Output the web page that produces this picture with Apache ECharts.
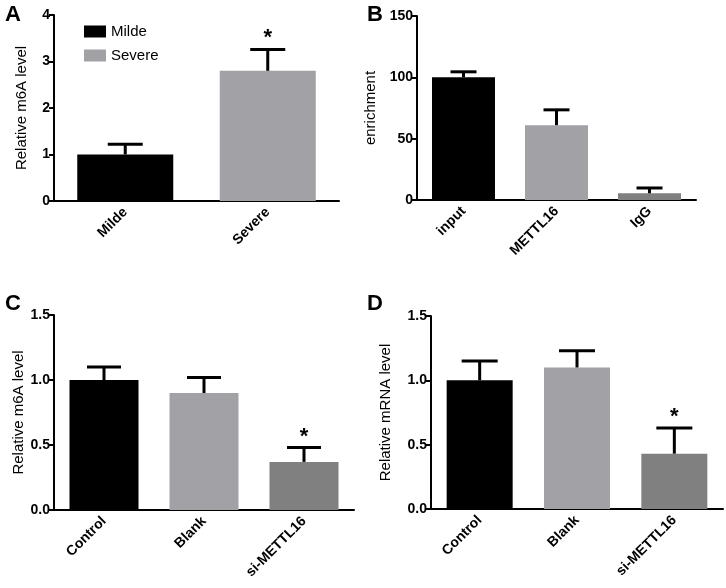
<!DOCTYPE html>
<html>
<head>
<meta charset="utf-8">
<script src="https://cdn.jsdelivr.net/npm/echarts@6/dist/echarts.min.js"></script>
<style>
  html, body { margin: 0; padding: 0; background: #fff; }
  #output { width: 726px; height: 588px; }
</style>
</head>
<body>
<div id="output"></div>
<script>
const chart = echarts.init(document.getElementById('output'));

// panel A
const categoriesA = ['Milde', 'Severe'];
const meanA = [1.0, 2.8];
const upperA = [1.22, 3.26];
const sigA = [0, 1];

// panel B
const categoriesB = ['input', 'METTL16', 'IgG'];
const meanB = [100, 61, 5.5];
const upperB = [104.5, 73.5, 9.8];
const sigB = [0, 0, 0];

// panel C
const categoriesC = ['Control', 'Blank', 'si-METTL16'];
const meanC = [1.0, 0.9, 0.37];
const upperC = [1.1, 1.02, 0.48];
const sigC = [0, 0, 1];

// panel D
const categoriesD = ['Control', 'Blank', 'si-METTL16'];
const meanD = [1.0, 1.1, 0.43];
const upperD = [1.15, 1.23, 0.63];
const sigD = [0, 0, 1];

const BLACK = '#000000';
const LIGHT = '#a1a1a6';
const DARK = '#808080';
const threeColors = [BLACK, LIGHT, DARK];
const FONT = 'Liberation Sans, Arial, sans-serif';

function errorRender (capWidth) {
  return function (params, api) {
    const x = api.value(0);
    const p0 = api.coord([x, api.value(1)]);
    const p1 = api.coord([x, api.value(2)]);
    const style = { stroke: '#000', lineWidth: 3 };
    const children = [
      { type: 'line', shape: { x1: p0[0], y1: p0[1], x2: p1[0], y2: p1[1] }, style },
      { type: 'line', shape: { x1: p1[0] - capWidth / 2, y1: p1[1], x2: p1[0] + capWidth / 2, y2: p1[1] }, style }
    ]
    if (api.value(3)) {
      children.push({
        type: 'text',
        style: {
          text: '*', x: p1[0], y: p1[1], align: 'center', verticalAlign: 'bottom',
          font: 'bold 22px ' + FONT, fill: '#000'
        }
      })
    }
    return { type: 'group', children }
  }
}

function errorSeries (idx, mean, upper, sig, capWidth) {
  return {
    type: 'custom',
    xAxisIndex: idx,
    yAxisIndex: idx,
    renderItem: errorRender(capWidth),
    encode: { x: 0, y: 2 },
    data: mean.map((m, i) => [i, m, upper[i], sig[i]]),
    z: 3,
    silent: true
  }
}

function xAxis (idx, data) {
  return {
    type: 'category',
    gridIndex: idx,
    data,
    axisLine: { lineStyle: { color: '#000', width: 2 } },
    axisTick: { alignWithLabel: true, length: 6, lineStyle: { color: '#000', width: 2 } },
    axisLabel: { rotate: 45, color: '#000', fontWeight: 'bold', fontSize: 14, fontFamily: FONT, margin: 9 }
  }
}

function yAxis (idx, name, max, interval, gap, digits) {
  return {
    type: 'value',
    gridIndex: idx,
    min: 0,
    max,
    interval,
    name,
    nameLocation: 'middle',
    nameGap: gap,
    nameTextStyle: { color: '#000', fontSize: 15, fontFamily: FONT },
    splitLine: { show: false },
    axisLine: { show: true, lineStyle: { color: '#000', width: 2 } },
    axisTick: { show: true, length: 5, lineStyle: { color: '#000', width: 2 } },
    axisLabel: {
      color: '#000', fontWeight: 'bold', fontSize: 14, fontFamily: FONT, margin: 4,
      formatter: v => v.toFixed(digits)
    }
  }
}

function coloredBars (idx, values, width) {
  return {
    type: 'bar',
    xAxisIndex: idx,
    yAxisIndex: idx,
    barWidth: width,
    data: values.map((v, i) => ({ value: v, itemStyle: { color: threeColors[i] } }))
  }
}

const option = {
  animation: false,
  textStyle: { fontFamily: FONT },
  grid: [
    { left: 54, top: 15, width: 285, height: 186 },
    { left: 417, top: 16, width: 279, height: 184 },
    { left: 54, top: 315, width: 300, height: 195 },
    { left: 431, top: 316, width: 292, height: 193 }
  ],
  legend: {
    data: ['Milde', 'Severe'],
    orient: 'vertical',
    left: 79,
    top: 19,
    icon: 'rect',
    itemWidth: 22,
    itemHeight: 12,
    itemGap: 9,
    textStyle: { color: '#000', fontSize: 15, fontFamily: FONT }
  },
  graphic: [
    { type: 'text', left: 5, top: 4, style: { text: 'A', font: 'bold 22px ' + FONT, fill: '#000' } },
    { type: 'text', left: 367, top: 4, style: { text: 'B', font: 'bold 22px ' + FONT, fill: '#000' } },
    { type: 'text', left: 5, top: 293, style: { text: 'C', font: 'bold 22px ' + FONT, fill: '#000' } },
    { type: 'text', left: 367, top: 293, style: { text: 'D', font: 'bold 22px ' + FONT, fill: '#000' } }
  ],
  xAxis: [
    xAxis(0, categoriesA),
    xAxis(1, categoriesB),
    xAxis(2, categoriesC),
    xAxis(3, categoriesD)
  ],
  yAxis: [
    yAxis(0, 'Relative m6A level', 4, 1, 25, 0),
    yAxis(1, 'enrichment', 150, 50, 39, 0),
    yAxis(2, 'Relative m6A level', 1.5, 0.5, 23, 1),
    yAxis(3, 'Relative mRNA level', 1.5, 0.5, 38, 1)
  ],
  series: [
    {
      name: 'Milde', type: 'bar', xAxisIndex: 0, yAxisIndex: 0, barWidth: 96, barGap: '-100%',
      itemStyle: { color: BLACK }, data: [meanA[0], '-']
    },
    {
      name: 'Severe', type: 'bar', xAxisIndex: 0, yAxisIndex: 0, barWidth: 96, barGap: '-100%',
      itemStyle: { color: LIGHT }, data: ['-', meanA[1]]
    },
    errorSeries(0, meanA, upperA, sigA, 35),
    coloredBars(1, meanB, 63),
    errorSeries(1, meanB, upperB, sigB, 26),
    coloredBars(2, meanC, 69),
    errorSeries(2, meanC, upperC, sigC, 34),
    coloredBars(3, meanD, 66),
    errorSeries(3, meanD, upperD, sigD, 36)
  ]
}

chart.setOption(option)
</script>
</body>
</html>
